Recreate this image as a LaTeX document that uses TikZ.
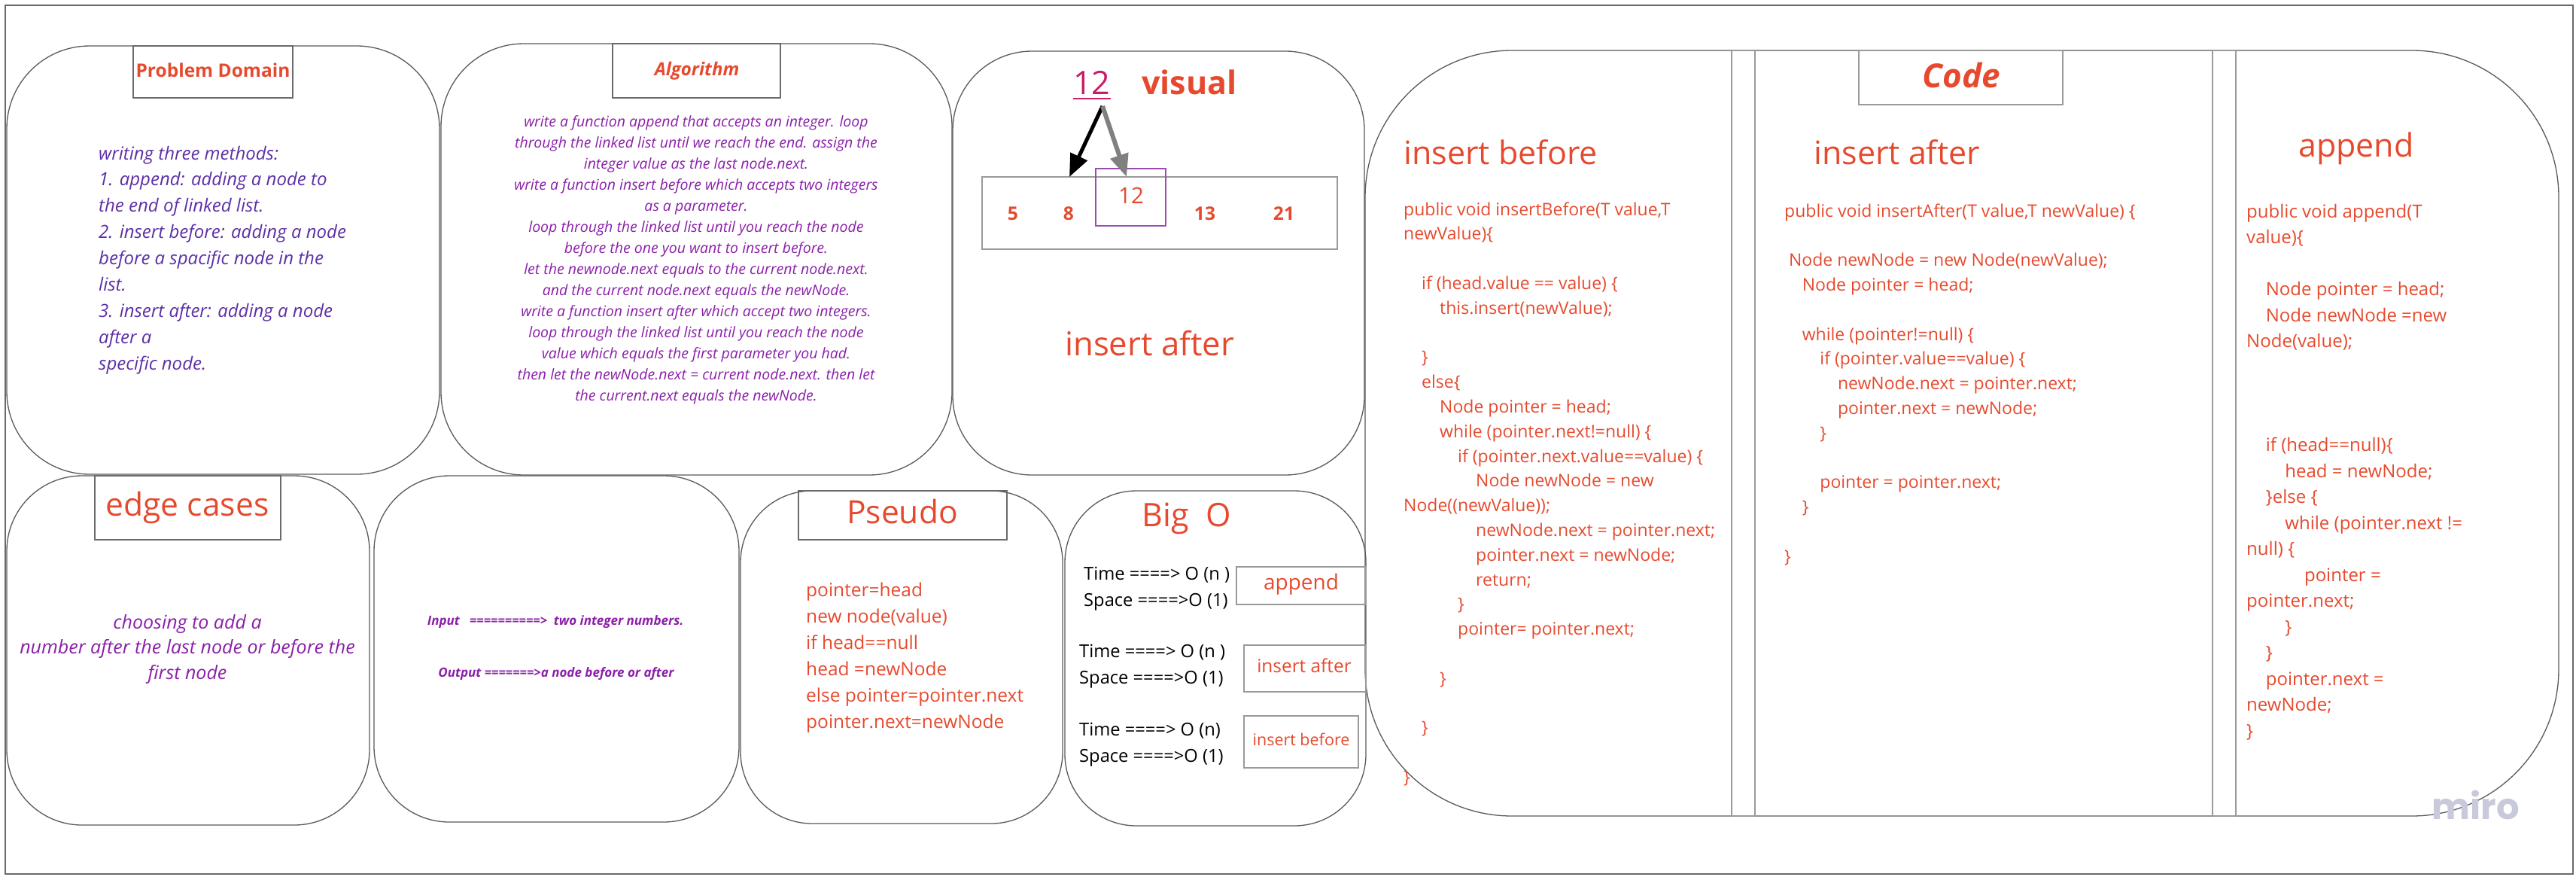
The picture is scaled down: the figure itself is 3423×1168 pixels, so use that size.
\documentclass[tikz,border=0pt]{standalone}
\usepackage{fontspec}
\setmainfont{Open Sans}
\newfontfamily\mirofont{Poppins}
\usetikzlibrary{arrows.meta}
\definecolor{txtred}{HTML}{E64A2E}
\definecolor{pura}{HTML}{5C30A6}
\definecolor{purb}{HTML}{8B1FA9}
\definecolor{magx}{HTML}{C71C66}
\definecolor{boxpur}{HTML}{9A4BB0}
\definecolor{cardgray}{HTML}{5A5A5A}
\definecolor{boxgray}{HTML}{6A6A6A}
\definecolor{lightgray}{HTML}{9A9A9A}
\definecolor{mirogray}{HTML}{C8C9DA}
\newdimen\indw
\newcommand\codeln[2][0]{\hbox{\kern#1\indw #2}}
\newcommand\cln[1]{\hbox to 0pt{\hss#1\hss}}
\newcommand\lineblock[2]{\vtop{\baselineskip=#1\lineskiplimit=-\maxdimen\lineskip=0pt #2}}
\tikzset{
  card/.style={draw=cardgray, line width=1.3pt},
  tbox/.style={draw=boxgray, line width=1.6pt},
  lbox/.style={draw=lightgray, line width=1.6pt},
  txt/.style={inner sep=0pt, text=txtred},
  fs/.style={font=\fontsize{#1}{#1}\selectfont},
  fsb/.style={font=\bfseries\fontsize{#1}{#1}\selectfont},
  fsi/.style={font=\itshape\fontsize{#1}{#1}\selectfont},
  fsbi/.style={font=\bfseries\itshape\fontsize{#1}{#1}\selectfont},
}
\begin{document}
\begin{tikzpicture}[x=1pt, y=-1pt]
\useasboundingbox (0,0) rectangle (3423,1168);
\fill[white] (0,0) rectangle (3423,1168);
\draw[draw=boxgray, line width=1.5pt] (7,7) rectangle (3419,1161);

% ---------- cards ----------
\draw[card, rounded corners=110pt] (9,61) rectangle (584,630);
\draw[card, rounded corners=110pt] (586,58) rectangle (1265,631);
\draw[card, rounded corners=105pt] (1266,68) rectangle (1813,631);
\draw[card, rounded corners=100pt] (9,632) rectangle (491,1096);
\draw[card, rounded corners=100pt] (497,632) rectangle (982,1092);
\draw[card, rounded corners=95pt] (984,652) rectangle (1412,1094);
\draw[card, rounded corners=95pt] (1415,652) rectangle (1815,1097);
\draw[card, rounded corners=195pt] (1814,67) rectangle (3400,1084);

% ---------- Problem Domain ----------
\draw[tbox] (177,61) rectangle (389,130);
\node[txt, fsb=24.5, anchor=base] (pdt) at (283,102) {Problem Domain};
\node[inner sep=0pt, text=pura, fsi=24, anchor=base west] (pdb) at (131,212)
 {\lineblock{34.9pt}{%
  \codeln{writing three methods:}%
  \codeln{1. append: adding a node to}%
  \codeln{the end of linked list.}%
  \codeln{2. insert before: adding a node}%
  \codeln{before a spacific node in the}%
  \codeln{list.}%
  \codeln{3. insert after: adding a node}%
  \codeln{after a}%
  \codeln{specific node.}}};

% ---------- Algorithm ----------
\draw[tbox] (814,58) rectangle (1037,130);
\node[txt, fsbi=24, anchor=base] (algt) at (926,100) {Algorithm};
\node[inner sep=0pt, text=purb, fsi=19.5, anchor=base] (algb) at (925,168)
 {\lineblock{28pt}{%
  \cln{write a function append that accepts an integer. loop}%
  \cln{through the linked list until we reach the end. assign the}%
  \cln{integer value as the last node.next.}%
  \cln{write a function insert before which accepts two integers}%
  \cln{as a parameter.}%
  \cln{loop through the linked list until you reach the node}%
  \cln{before the one you want to insert before.}%
  \cln{let the newnode.next equals to the current node.next.}%
  \cln{and the current node.next equals the newNode.}%
  \cln{write a function insert after which accept two integers.}%
  \cln{loop through the linked list until you reach the node}%
  \cln{value which equals the first parameter you had.}%
  \cln{then let the newNode.next = current node.next. then let}%
  \cln{the current.next equals the newNode.}}};

% ---------- visual ----------
\node[inner sep=0pt, text=magx, fs=43, anchor=base west] (n12) at (1426,125) {12};
\draw[magx, line width=2.5pt] ([yshift=-6pt]n12.base west) -- ([yshift=-6pt]n12.base east);
\node[txt, fsb=43, anchor=base west] (vis) at (1517,125) {visual};
\draw[lbox] (1305,235) rectangle (1777,331);
\node[txt, fsb=24.6, anchor=base] (v5) at (1346,292) {5};
\node[txt, fsb=24.6, anchor=base] (v8) at (1420,292) {8};
\node[txt, fsb=24.6, anchor=base] (v13) at (1601,292) {13};
\node[txt, fsb=24.6, anchor=base] (v21) at (1706,292) {21};
\draw[draw=boxpur, line width=1.8pt] (1456,224) rectangle (1549,300);
\node[txt, fs=29.5, anchor=base] (v12) at (1503,270) {12};
\coordinate (src) at (1465,141);
\coordinate (tgtA) at (1421,235);
\coordinate (tgtB) at (1497,235);
\draw[black, line width=5pt, -{Triangle[width=24pt,length=30pt]}] (src) -- (tgtA);
\draw[gray, line width=6pt, -{Triangle[width=24pt,length=30pt]}] (src) -- (tgtB);
\node[txt, fs=43.7, anchor=base west] (visa) at (1415,472) {insert after};

% ---------- edge cases ----------
\draw[tbox] (126,632) rectangle (373,717);
\node[txt, fs=42.6, anchor=base] (edt) at (249,685) {edge cases};
\node[inner sep=0pt, text=purb, fsi=25, anchor=base] (edb) at (249,835)
 {\lineblock{33.5pt}{%
  \cln{choosing to add a}%
  \cln{number after the last node or before the}%
  \cln{first node}}};

% ---------- input / output ----------
\node[inner sep=0pt, text=purb, fsbi=17, anchor=base] (inp) at (738,830)
 {Input\ \ \ ==========>\ \ two integer numbers.};
\node[inner sep=0pt, text=purb, fsbi=17, anchor=base] (outp) at (739,899)
 {Output =======>a node before or after};

% ---------- Pseudo ----------
\draw[tbox] (1061,652) rectangle (1338,717);
\node[txt, fs=42.5, anchor=base] (pst) at (1199,695) {Pseudo};
\node[txt, fs=24.5, anchor=base west] (psb) at (1071,792)
 {\lineblock{35pt}{%
  \codeln{pointer=head}%
  \codeln{new node(value)}%
  \codeln{if head==null}%
  \codeln{head =newNode}%
  \codeln{else pointer=pointer.next}%
  \codeln{pointer.next=newNode}}};

% ---------- Big O ----------
\node[txt, fs=43, anchor=base] (bot) at (1577,699) {Big~~O};
\node[inner sep=0pt, fs=23.7, anchor=base west] (bo1) at (1440,770)
 {\lineblock{35pt}{\codeln{Time ====> O (n )}\codeln{Space ====>O (1)}}};
\node[inner sep=0pt, fs=23.7, anchor=base west] (bo2) at (1434,873)
 {\lineblock{35pt}{\codeln{Time ====> O (n )}\codeln{Space ====>O (1)}}};
\node[inner sep=0pt, fs=23.7, anchor=base west] (bo3) at (1434,977)
 {\lineblock{35pt}{\codeln{Time ====> O (n)}\codeln{Space ====>O (1)}}};
\draw[lbox] (1643,753) rectangle (1815,803);
\node[txt, fs=28, anchor=base] (boa) at (1729,783) {append};
\draw[lbox] (1653,857) rectangle (1815,919);
\node[txt, fs=24.4, anchor=base] (bob) at (1733,893) {insert after};
\draw[lbox] (1653,951) rectangle (1805,1020);
\node[txt, fs=21.5, anchor=base] (boc) at (1729,990) {insert before};

% ---------- Code ----------
\draw[lbox] (2301,67) rectangle (2332,1084);
\draw[lbox] (2940,67) rectangle (2971,1084);
\draw[lbox] (2470,67) rectangle (2741,139);
\node[txt, fsbi=44, anchor=base] (codet) at (2606,116) {Code};

\node[txt, fs=43, anchor=base west] (cbt) at (1865,218) {insert before};
\indw=24pt
\node[txt, fs=23, anchor=base west] (cb1) at (1865,286)
 {\lineblock{32.8pt}{%
  \codeln{public void insertBefore(T value,T}%
  \codeln{newValue)\{}%
  \codeln{}%
  \codeln[1]{if (head.value == value) \{}%
  \codeln[2]{this.insert(newValue);}%
  \codeln{}%
  \codeln[1]{\}}%
  \codeln[1]{else\{}%
  \codeln[2]{Node pointer = head;}%
  \codeln[2]{while (pointer.next!=null) \{}%
  \codeln[3]{if (pointer.next.value==value) \{}%
  \codeln[4]{Node newNode = new}%
  \codeln{Node((newValue));}%
  \codeln[4]{newNode.next = pointer.next;}%
  \codeln[4]{pointer.next = newNode;}%
  \codeln[4]{return;}%
  \codeln[3]{\}}%
  \codeln[3]{pointer= pointer.next;}%
  \codeln{}%
  \codeln[2]{\}}%
  \codeln{}%
  \codeln[1]{\}}%
  \codeln{}%
  \codeln{\}}}};

\node[txt, fs=43, anchor=base west] (cat) at (2410,218) {insert after};
\indw=23.6pt
\node[txt, fs=23, anchor=base west] (cb2) at (2371,288)
 {\lineblock{32.8pt}{%
  \codeln{public void insertAfter(T value,T newValue) \{}%
  \codeln{}%
  \codeln[0.25]{Node newNode = new Node(newValue);}%
  \codeln[1]{Node pointer = head;}%
  \codeln{}%
  \codeln[1]{while (pointer!=null) \{}%
  \codeln[2]{if (pointer.value==value) \{}%
  \codeln[3]{newNode.next = pointer.next;}%
  \codeln[3]{pointer.next = newNode;}%
  \codeln[2]{\}}%
  \codeln{}%
  \codeln[2]{pointer = pointer.next;}%
  \codeln[1]{\}}%
  \codeln{}%
  \codeln{\}}}};

\node[txt, fs=43, anchor=base west] (cct) at (3054,208) {append};
\indw=25.6pt
\node[txt, fs=24, anchor=base west] (cb3) at (2985,289)
 {\lineblock{34.5pt}{%
  \codeln{public void append(T}%
  \codeln{value)\{}%
  \codeln{}%
  \codeln[1]{Node pointer = head;}%
  \codeln[1]{Node newNode =new}%
  \codeln{Node(value);}%
  \codeln{}%
  \codeln{}%
  \codeln{}%
  \codeln[1]{if (head==null)\{}%
  \codeln[2]{head = newNode;}%
  \codeln[1]{\}else \{}%
  \codeln[2]{while (pointer.next !=}%
  \codeln{null) \{}%
  \codeln[3]{pointer =}%
  \codeln{pointer.next;}%
  \codeln[2]{\}}%
  \codeln[1]{\}}%
  \codeln[1]{pointer.next =}%
  \codeln{newNode;}%
  \codeln{\}}}};

\node[inner sep=0pt, text=mirogray, font=\mirofont\bfseries\fontsize{48}{48}\selectfont, anchor=base] (miro) at (3290,1088) {miro};
\end{tikzpicture}
\end{document}
